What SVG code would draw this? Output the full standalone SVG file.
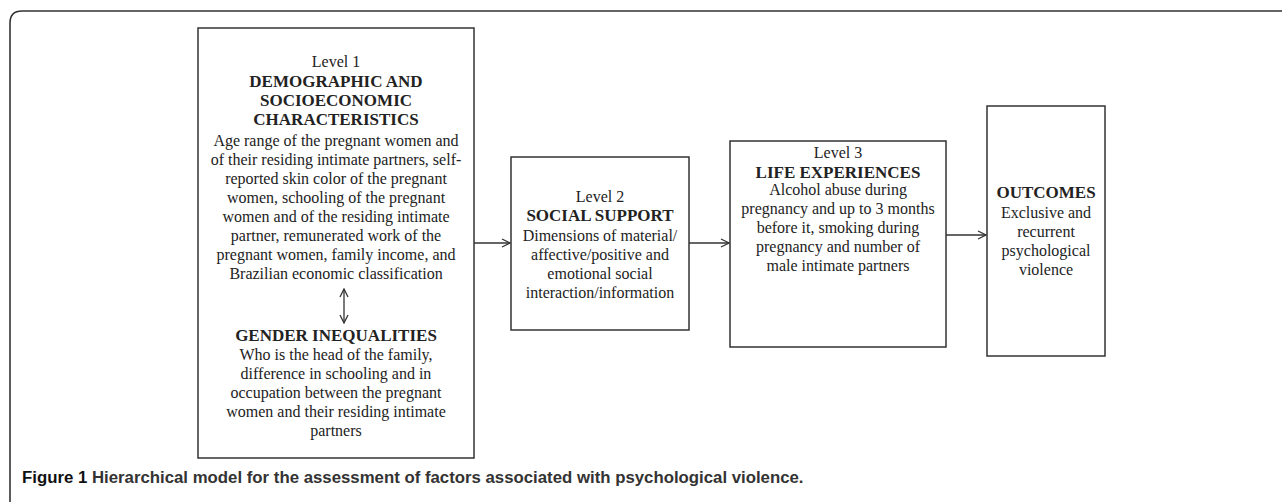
<svg xmlns="http://www.w3.org/2000/svg" width="1282" height="502" viewBox="0 0 1282 502">
<defs>
<style>
.box{fill:#fff;stroke:#333;stroke-width:1.5}
.t{font-family:"Liberation Serif","Times New Roman",serif;font-size:16px;fill:#222;text-anchor:middle}
.h{font-family:"Liberation Serif","Times New Roman",serif;font-size:17px;font-weight:bold;fill:#222;text-anchor:middle}
.c{stroke:#333;stroke-width:1.3;fill:none}
.cap{font-family:"Liberation Sans",Arial,sans-serif;font-size:16.8px;font-weight:bold;fill:#333}
</style>
<marker id="ah" viewBox="0 0 10 10" refX="9" refY="5" markerWidth="10" markerHeight="10" markerUnits="userSpaceOnUse" orient="auto-start-reverse">
<path d="M1,1 L9,5 L1,9" fill="none" stroke="#333" stroke-width="1.3"/>
</marker>
</defs>
<rect width="1282" height="502" fill="#fff"/>
<path d="M10,502 L10,23 Q10,11 22,11 L1282,11" fill="none" stroke="#333" stroke-width="1.6"/>

<g id="level1">
<rect class="box" x="198" y="28" width="276" height="430"/>
<text class="t" x="336" y="67">Level 1</text>
<text class="h" x="336" y="87">DEMOGRAPHIC AND</text>
<text class="h" x="336" y="106">SOCIOECONOMIC</text>
<text class="h" x="336" y="125">CHARACTERISTICS</text>
<text class="t" x="336" y="146">Age range of the pregnant women and</text>
<text class="t" x="336" y="165">of their residing intimate partners, self-</text>
<text class="t" x="336" y="184">reported skin color of the pregnant</text>
<text class="t" x="336" y="203">women, schooling of the pregnant</text>
<text class="t" x="336" y="222">women and of the residing intimate</text>
<text class="t" x="336" y="241">partner, remunerated work of the</text>
<text class="t" x="336" y="260">pregnant women, family income, and</text>
<text class="t" x="336" y="279">Brazilian economic classification</text>
<text class="h" x="336" y="341">GENDER INEQUALITIES</text>
<text class="t" x="336" y="360">Who is the head of the family,</text>
<text class="t" x="336" y="379">difference in schooling and in</text>
<text class="t" x="336" y="398">occupation between the pregnant</text>
<text class="t" x="336" y="417">women and their residing intimate</text>
<text class="t" x="336" y="436">partners</text>
</g>

<g id="level2">
<rect class="box" x="511" y="157" width="178" height="173"/>
<text class="t" x="600" y="202">Level 2</text>
<text class="h" x="600" y="221">SOCIAL SUPPORT</text>
<text class="t" x="600" y="241">Dimensions of material/</text>
<text class="t" x="600" y="260">affective/positive and</text>
<text class="t" x="600" y="279">emotional social</text>
<text class="t" x="600" y="298">interaction/information</text>
</g>

<g id="level3">
<rect class="box" x="730" y="141" width="216" height="206"/>
<text class="t" x="838" y="158">Level 3</text>
<text class="h" x="838" y="178">LIFE EXPERIENCES</text>
<text class="t" x="838" y="195">Alcohol abuse during</text>
<text class="t" x="838" y="214">pregnancy and up to 3 months</text>
<text class="t" x="838" y="233">before it, smoking during</text>
<text class="t" x="838" y="252">pregnancy and number of</text>
<text class="t" x="838" y="271">male intimate partners</text>
</g>

<g id="outcomes">
<rect class="box" x="987" y="106" width="118" height="250"/>
<text class="h" x="1046" y="198">OUTCOMES</text>
<text class="t" x="1046" y="218">Exclusive and</text>
<text class="t" x="1046" y="237">recurrent</text>
<text class="t" x="1046" y="256">psychological</text>
<text class="t" x="1046" y="275">violence</text>
</g>

<g id="connectors">
<line class="c" x1="474" y1="243" x2="510" y2="243" marker-end="url(#ah)"/>
<line class="c" x1="689" y1="243" x2="729" y2="243" marker-end="url(#ah)"/>
<line class="c" x1="946" y1="235" x2="986" y2="235" marker-end="url(#ah)"/>
<line class="c" x1="344" y1="289" x2="344" y2="323" marker-start="url(#ah)" marker-end="url(#ah)"/>
</g>

<text class="cap" x="22" y="483"><tspan fill="#111">Figure 1</tspan> Hierarchical model for the assessment of factors associated with psychological violence.</text>
</svg>
